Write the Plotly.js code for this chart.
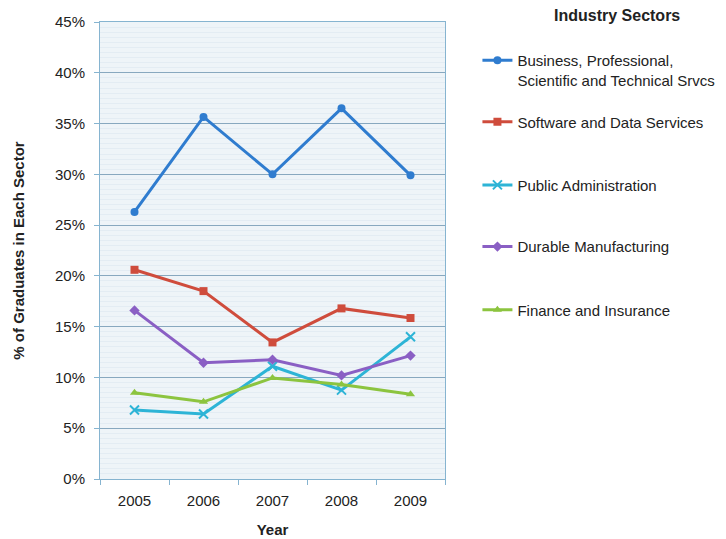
<!DOCTYPE html>
<html>
<head>
<meta charset="utf-8">
<script src="https://cdn.plot.ly/plotly-3.0.1.min.js"></script>
<style>html,body{margin:0;padding:0;background:#fff;}#chart{width:726px;height:539px;}</style>
</head>
<body>
<div id="chart"></div>
<script>
const years = ['2005', '2006', '2007', '2008', '2009'];
const seriesNames = [
  'Business, Professional,<br>Scientific and Technical Srvcs',
  'Software and Data Services',
  'Public Administration',
  'Durable Manufacturing',
  'Finance and Insurance'
];
const business = [26.3, 35.65, 30.0, 36.5, 29.9];
const software = [20.6, 18.5, 13.45, 16.8, 15.85];
const publicAdmin = [6.8, 6.4, 11.1, 8.75, 14.0];
const durable = [16.6, 11.45, 11.75, 10.2, 12.15];
const finance = [8.5, 7.6, 9.95, 9.3, 8.35];
const yTickVals = [0, 5, 10, 15, 20, 25, 30, 35, 40, 45];
const yTickText = ['0%', '5%', '10%', '15%', '20%', '25%', '30%', '35%', '40%', '45%'];

const values = [business, software, publicAdmin, durable, finance];
const colors = ['#2f7ccf', '#cf4c3c', '#2db4d6', '#8a5fc4', '#8cc43f'];
const symbols = ['circle', 'square', 'x-thin-open', 'diamond', 'triangle-up'];
const legendIds = ['legend', 'legend2', 'legend3', 'legend4', 'legend5'];
const legendY = [0.895, 0.781, 0.643, 0.508, 0.370];

const font = 'Liberation Sans, Arial, sans-serif';
const traces = values.map((v, i) => ({
  type: 'scatter', mode: 'lines+markers',
  x: years, y: v, name: seriesNames[i],
  legend: legendIds[i],
  line: {color: colors[i], width: 3},
  marker: {symbol: symbols[i], size: i === 2 ? 9 : 8, color: colors[i],
           line: {color: colors[i], width: i === 2 ? 2 : 0}}
}));

const layout = {
  width: 726, height: 539,
  margin: {l: 100, r: 281, t: 22, b: 60, autoexpand: false},
  paper_bgcolor: '#ffffff', plot_bgcolor: '#eef4f8',
  font: {family: font, size: 15, color: '#222'},
  showlegend: true,
  xaxis: {
    type: 'category', range: [-0.5, 4.5], tickson: 'boundaries', ticks: 'outside', ticklen: 5,
    tickcolor: '#86b4d0', showgrid: false, showline: true, linecolor: '#86b4d0', linewidth: 1,
    mirror: true, zeroline: false, ticklabelstandoff: 8,
    tickfont: {size: 15, family: font, color: '#222'},
    title: {text: '<b>Year</b>', font: {size: 15, family: font, color: '#222'}, standoff: 16}
  },
  yaxis: {
    range: [0, 45], tickvals: yTickVals, ticktext: yTickText,
    ticks: 'outside', ticklen: 5, tickcolor: '#86b4d0',
    showgrid: true, gridcolor: '#88a8bf', gridwidth: 1,
    showline: true, linecolor: '#86b4d0', mirror: true, zeroline: false,
    ticklabelstandoff: 6,
    minor: {dtick: 0.5, showgrid: true, gridcolor: '#e3ecf3', gridwidth: 1, ticks: ''},
    tickfont: {size: 15, family: font, color: '#222'},
    title: {text: '<b>% of Graduates in Each Sector</b>', font: {size: 15, family: font, color: '#222'}, standoff: 26}
  },
  annotations: [{
    text: '<b>Industry Sectors</b>', xref: 'paper', yref: 'paper',
    x: 1.499, y: 1.015, xanchor: 'center', yanchor: 'middle', showarrow: false,
    font: {size: 16, family: font, color: '#222'}
  }]
};
legendIds.forEach((id, i) => {
  layout[id] = {
    x: 1.094, xanchor: 'left', y: legendY[i], yanchor: 'middle',
    bgcolor: 'rgba(0,0,0,0)', borderwidth: 0, valign: 'top',
    font: {size: 15, family: font, color: '#222'}, itemwidth: 30
  };
});

Plotly.newPlot('chart', traces, layout, {displayModeBar: false, staticPlot: true});
</script>
</body>
</html>
